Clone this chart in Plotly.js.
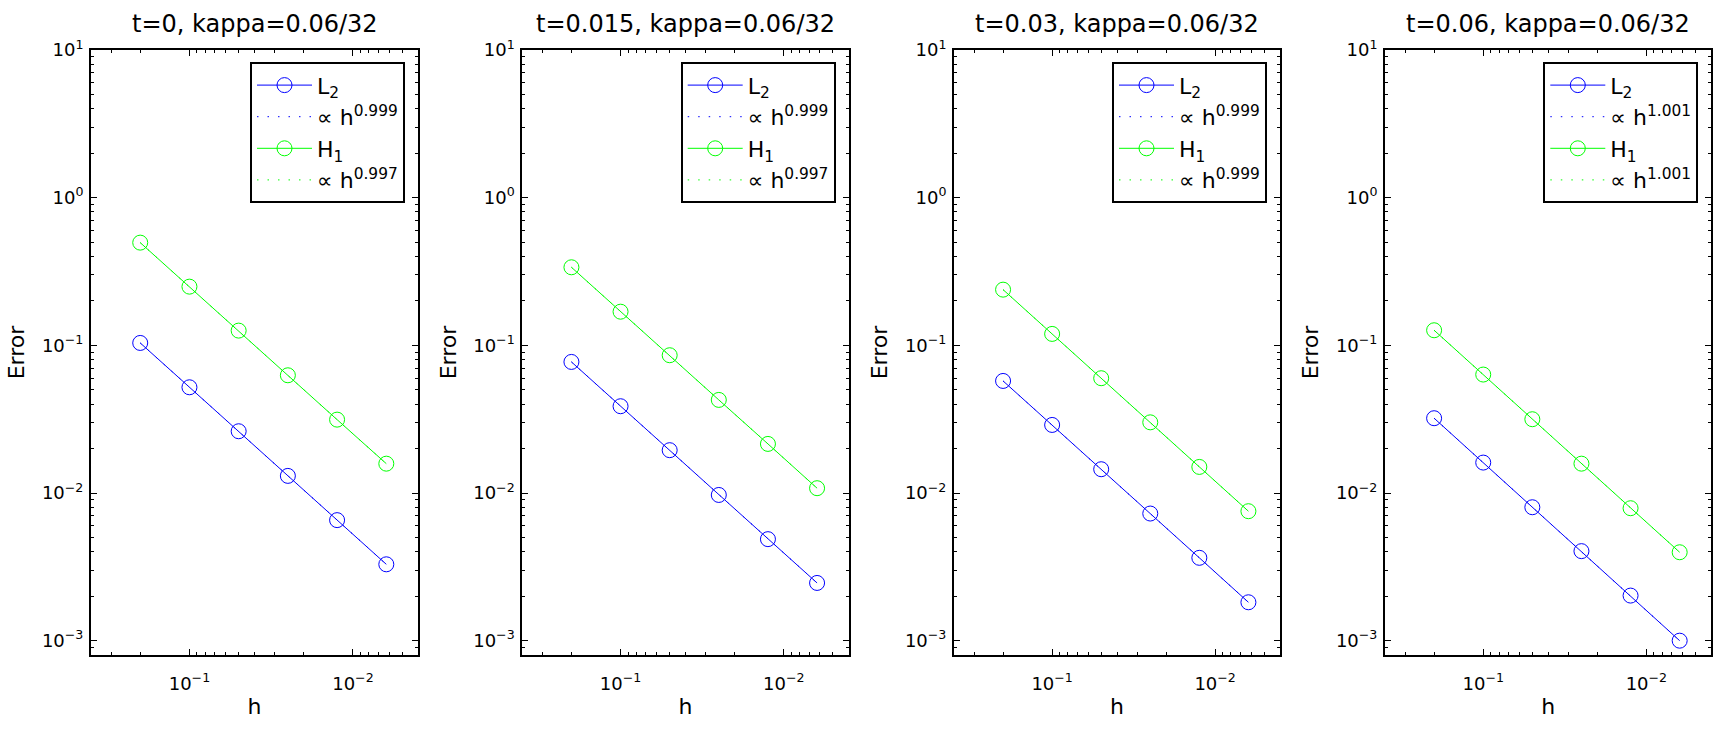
<!DOCTYPE html>
<html>
<head>
<meta charset="utf-8">
<script src="https://cdn.plot.ly/plotly-3.0.1.min.js"></script>
<style>html,body{margin:0;padding:0;background:#fff;}#chart{width:1715px;height:732px;}</style>
</head>
<body>
<div id="chart"></div>
<script>
// ---- data ----
const h = [0.2, 0.1, 0.05, 0.025, 0.0125, 0.00625];
const titles = ["t=0, kappa=0.06/32", "t=0.015, kappa=0.06/32", "t=0.03, kappa=0.06/32", "t=0.06, kappa=0.06/32"];
const L2_t0    = [0.1038, 0.0520, 0.0262, 0.01306, 0.00655, 0.00329];
const H1_t0    = [0.496, 0.2497, 0.1258, 0.0627, 0.0314, 0.0158];
const L2_t015  = [0.0772, 0.0387, 0.0195, 0.0097, 0.00487, 0.00246];
const H1_t015  = [0.3378, 0.169, 0.0857, 0.0427, 0.0215, 0.01078];
const L2_t03   = [0.0574, 0.0289, 0.01449, 0.00726, 0.00364, 0.00182];
const H1_t03   = [0.2383, 0.1195, 0.0599, 0.0301, 0.01502, 0.00753];
const L2_t06   = [0.0321, 0.01607, 0.00801, 0.00404, 0.00202, 0.00100];
const H1_t06   = [0.1265, 0.0634, 0.0316, 0.0158, 0.00789, 0.00397];
const rateL2 = ["0.999", "0.999", "0.999", "1.001"];
const rateH1 = ["0.997", "0.997", "0.999", "1.001"];
const xTickVals = [0.1, 0.01];
const xTickText = ["10<sup>\u22121</sup>", "10<sup>\u22122</sup>"];
const yTickVals = [10, 1, 0.1, 0.01, 0.001];
const yTickText = ["10<sup>1</sup>", "10<sup>0</sup>", "10<sup>\u22121</sup>", "10<sup>\u22122</sup>", "10<sup>\u22123</sup>"];

const L2 = [L2_t0, L2_t015, L2_t03, L2_t06];
const H1 = [H1_t0, H1_t015, H1_t03, H1_t06];

// ---- styling / layout ----
const W = 1715, H = 732;
const panelPx = [[91, 418], [522.3, 848.7], [954, 1280], [1385, 1711.3]];
const plotTop = 50, plotBot = 655;
const yDom = [(H - plotBot) / H, (H - plotTop) / H];
const BLUE = "#0000ff", GREEN = "#00ff00";
const FONT = "DejaVu Sans, Verdana, sans-serif";

const minorVals = [];
for (let e = -4; e <= 1; e++) for (let d = 2; d <= 9; d++) minorVals.push(+(d * Math.pow(10, e)).toPrecision(3));

const traces = [];
const layout = {
  width: W, height: H,
  margin: {l: 0, r: 0, t: 0, b: 0},
  paper_bgcolor: "#fff", plot_bgcolor: "#fff",
  font: {family: FONT, color: "#000", size: 18},
  showlegend: true,
  annotations: []
};

for (let i = 0; i < 4; i++) {
  const sfx = i === 0 ? "" : String(i + 1);
  const xa = "x" + sfx, ya = "y" + sfx;
  const lg = "legend" + sfx;
  const mk = (y, color, name, dotted, grp) => ({
    type: "scatter", x: h, y: y, xaxis: xa, yaxis: ya, legend: lg,
    legendgroup: "g" + i + "_" + grp, name: name,
    mode: dotted ? "lines" : "lines+markers",
    line: {color: color, width: 1, dash: dotted ? "1.5px,9px" : "solid"},
    marker: {symbol: "circle-open", size: 15, color: color, line: {width: 1, color: color}},
    hoverinfo: "skip"
  });
  traces.push(mk(L2[i], BLUE, "L<sub>2</sub>", false, 1));
  traces.push(mk(L2[i], BLUE, "\u221d h<sup>" + rateL2[i] + "</sup>", true, 2));
  traces.push(mk(H1[i], GREEN, "H<sub>1</sub>", false, 3));
  traces.push(mk(H1[i], GREEN, "\u221d h<sup>" + rateH1[i] + "</sup>", true, 4));

  const [px0, px1] = panelPx[i];
  const axCommon = {
    type: "log", showline: true, linewidth: 2, linecolor: "#000", mirror: "allticks",
    ticks: "inside", ticklen: 6, tickwidth: 1, tickcolor: "#000",
    showgrid: false, zeroline: false, tickmode: "array",
    tickfont: {family: FONT, size: 18, color: "#000"},
    minor: {tickmode: "array", tickvals: minorVals, ticks: "inside", ticklen: 3, tickwidth: 1, tickcolor: "#000", showgrid: false}
  };
  layout["xaxis" + sfx] = Object.assign({}, axCommon, {
    domain: [px0 / W, px1 / W], anchor: ya,
    range: [Math.log10(0.4), Math.log10(0.004)],
    tickvals: xTickVals, ticktext: xTickText,
    ticklabelstandoff: 11,
    title: {text: "h", font: {family: FONT, size: 22, color: "#000"}, standoff: 6}
  });
  layout["yaxis" + sfx] = Object.assign({}, axCommon, {
    domain: yDom, anchor: xa,
    range: [-3.097, 1],
    tickvals: yTickVals, ticktext: yTickText,
    ticklabelstandoff: 2,
    title: {text: "Error", font: {family: FONT, size: 22, color: "#000"}, standoff: 11}
  });
  layout[lg] = {
    x: (px1 - 13) / W, y: 1 - 62.3 / H, xanchor: "right", yanchor: "top",
    xref: "paper", yref: "paper",
    bgcolor: "#fff", bordercolor: "#000", borderwidth: 2,
    font: {family: FONT, size: 22, color: "#000"},
    traceorder: "grouped", tracegroupgap: 0, itemwidth: 55
  };
  layout.annotations.push({
    text: titles[i], xref: "paper", yref: "paper",
    x: (px0 + px1) / 2 / W, y: 1 - 24 / H, xanchor: "center", yanchor: "middle",
    showarrow: false, font: {family: FONT, size: 24, color: "#000"}
  });
}

Plotly.newPlot("chart", traces, layout, {displayModeBar: false, staticPlot: true});
</script>
</body>
</html>
